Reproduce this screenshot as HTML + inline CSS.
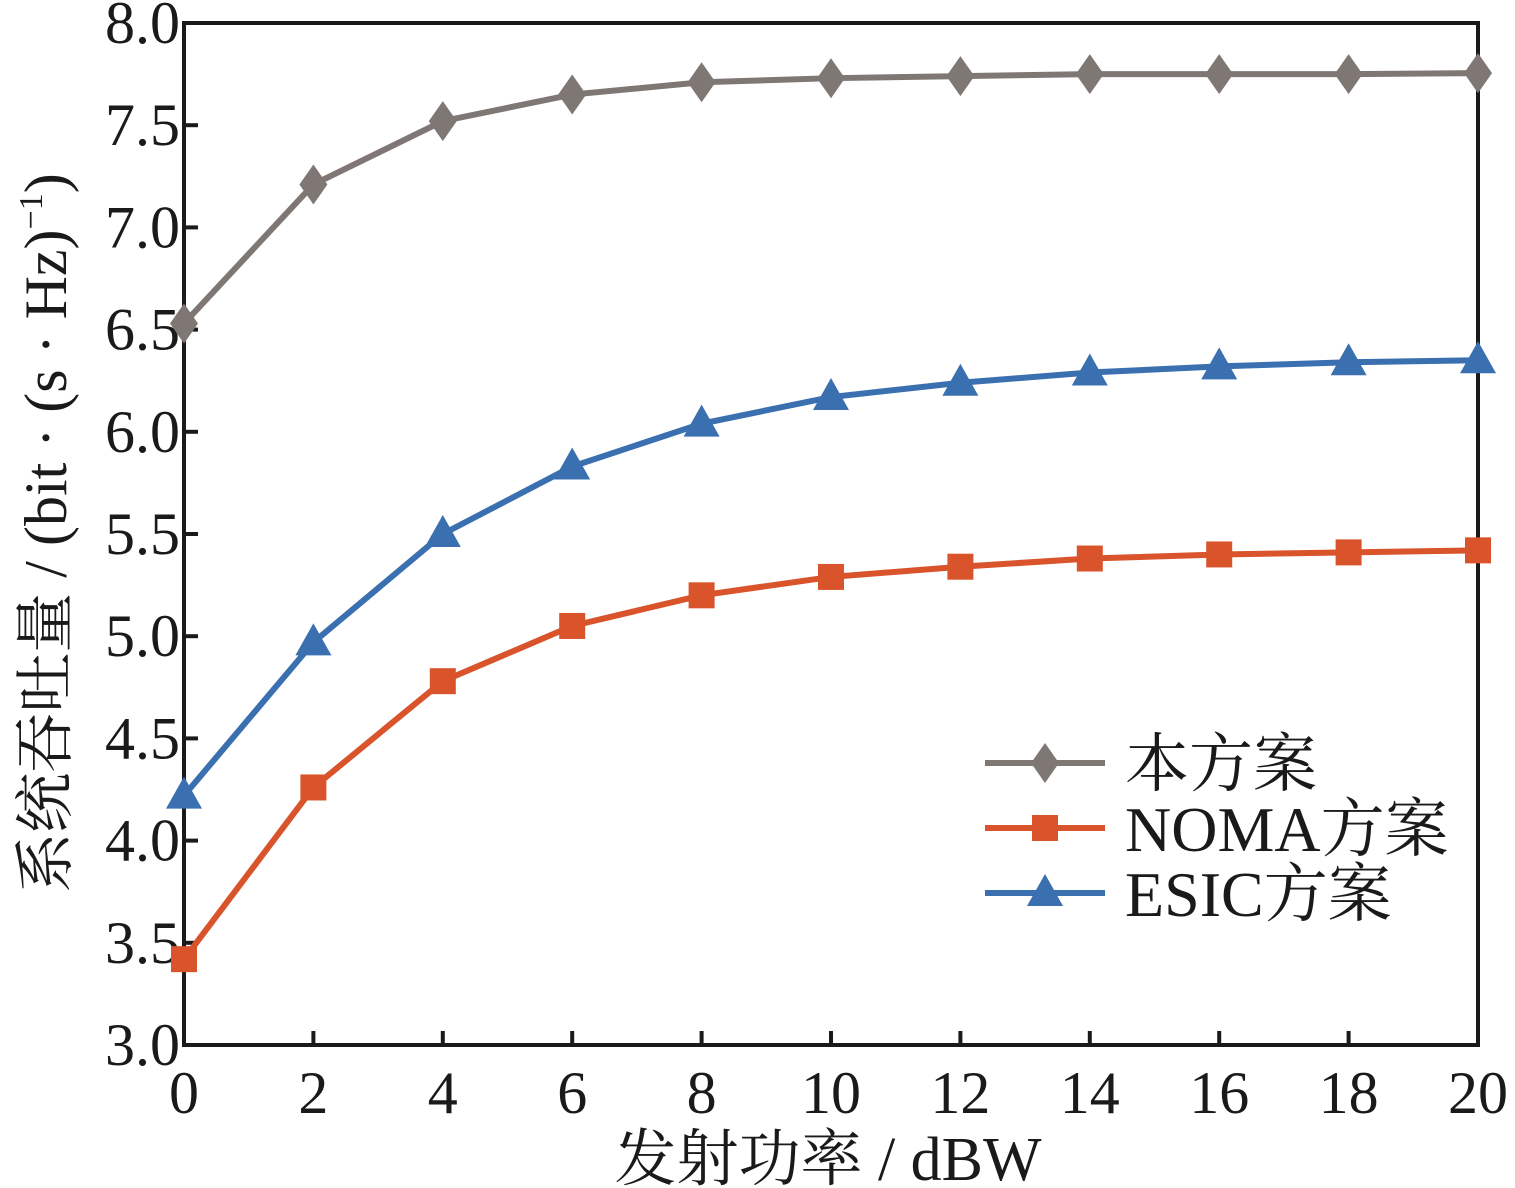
<!DOCTYPE html>
<html><head><meta charset="utf-8"><style>
html,body{margin:0;padding:0;background:#fff;}
svg{display:block;}
text{font-family:"Liberation Serif","Noto Serif CJK SC",serif;fill:#1a1a1a;}
</style></head><body>
<svg id="chart" width="1515" height="1188" viewBox="0 0 1515 1188" xmlns="http://www.w3.org/2000/svg"></svg>
<script>
const xCategories=[0,2,4,6,8,10,12,14,16,18,20];
const seriesOurs=[6.53,7.21,7.52,7.65,7.71,7.73,7.74,7.75,7.75,7.75,7.755];
const seriesNOMA=[3.42,4.26,4.78,5.05,5.20,5.29,5.34,5.38,5.40,5.41,5.42];
const seriesESIC=[4.22,4.97,5.50,5.83,6.04,6.17,6.24,6.29,6.32,6.34,6.35];
const yTicks=["3.0","3.5","4.0","4.5","5.0","5.5","6.0","6.5","7.0","7.5","8.0"];
const xTicks=["0","2","4","6","8","10","12","14","16","18","20"];

const L=184,R=1478,T=23,B=1045;
const sx=v=>L+(v-0)/(20-0)*(R-L);
const sy=v=>B-(v-3)/(8-3)*(B-T);
const svg=document.getElementById('chart');
const NS='http://www.w3.org/2000/svg';
function mk(tag,attrs,parent){const e=document.createElementNS(NS,tag);for(const k in attrs)e.setAttribute(k,attrs[k]);(parent||svg).appendChild(e);return e;}

yTicks.forEach(t=>{const v=parseFloat(t),y=sy(v);
 if(v>3&&v<8){const tk=mk('line',{x1:L,x2:L+14,y1:y,y2:y,stroke:'#1a1a1a','stroke-width':4});
 
 }
 const lb=mk('text',{x:L-4,y:y+20,'text-anchor':'end','font-size':60});lb.textContent=t;
 
 
});
xTicks.forEach(t=>{const v=parseFloat(t),x=sx(v);
 if(v>0&&v<20){const tk=mk('line',{x1:x,x2:x,y1:B,y2:B-14,stroke:'#1a1a1a','stroke-width':4});
 
 }
 const lb=mk('text',{x:x,y:B+68,'text-anchor':'middle','font-size':60});lb.textContent=t;
 
 
});
const frame=mk('rect',{x:L,y:T,width:R-L,height:B-T,fill:'none',stroke:'#1a1a1a','stroke-width':4});



function marker(kind,x,y,color,g){
 if(kind==='diamond')return mk('polygon',{points:`${x},${y-20} ${x+14},${y} ${x},${y+20} ${x-14},${y}`,fill:color},g);
 if(kind==='square')return mk('rect',{x:x-13,y:y-13,width:26,height:26,fill:color},g);
 return mk('polygon',{points:`${x},${y-19} ${x+18},${y+13} ${x-18},${y+13}`,fill:color},g);
}
function series(vals,color,kind,name){
 const g=mk('g',{});
 
 
 const pts=vals.map((v,i)=>sx(xCategories[i])+','+sy(v)).join(' ');
 const pl=mk('polyline',{points:pts,fill:'none',stroke:color,'stroke-width':6},g);
 
 
 vals.forEach((v,i)=>{const m=marker(kind,sx(xCategories[i]),sy(v),color,g);
  
  });
}
series(seriesOurs,'#7f7773','diamond','series-ours');
series(seriesNOMA,'#d9532b','square','series-noma');
series(seriesESIC,'#3a6fb0','triangle','series-esic');

const leg=[['本方案','#7f7773','diamond',763],['NOMA方案','#d9532b','square',828],['ESIC方案','#3a6fb0','triangle',893]];
const lg=mk('g',{});


leg.forEach(([t,c,k,y])=>{
 const e=mk('g',{},lg);
 
 
 mk('line',{x1:985,x2:1105,y1:y,y2:y,stroke:c,'stroke-width':6},e);
 marker(k,1045,y,c,e);
 const tx=mk('text',{x:1125,y:y+23,'font-size':64},e);tx.textContent=t;
});

const xt=mk('text',{x:828,y:1180,'text-anchor':'middle','font-size':62});
xt.textContent='发射功率 / dBW';


const yt=mk('text',{x:0,y:0,'text-anchor':'middle','font-size':60,transform:'translate(66,533) rotate(-90)'});
yt.innerHTML='系统吞吐量 / (bit · (s · Hz)<tspan dy="-24" font-size="34">−1</tspan><tspan dy="24">)</tspan>';


</script>
</body></html>
